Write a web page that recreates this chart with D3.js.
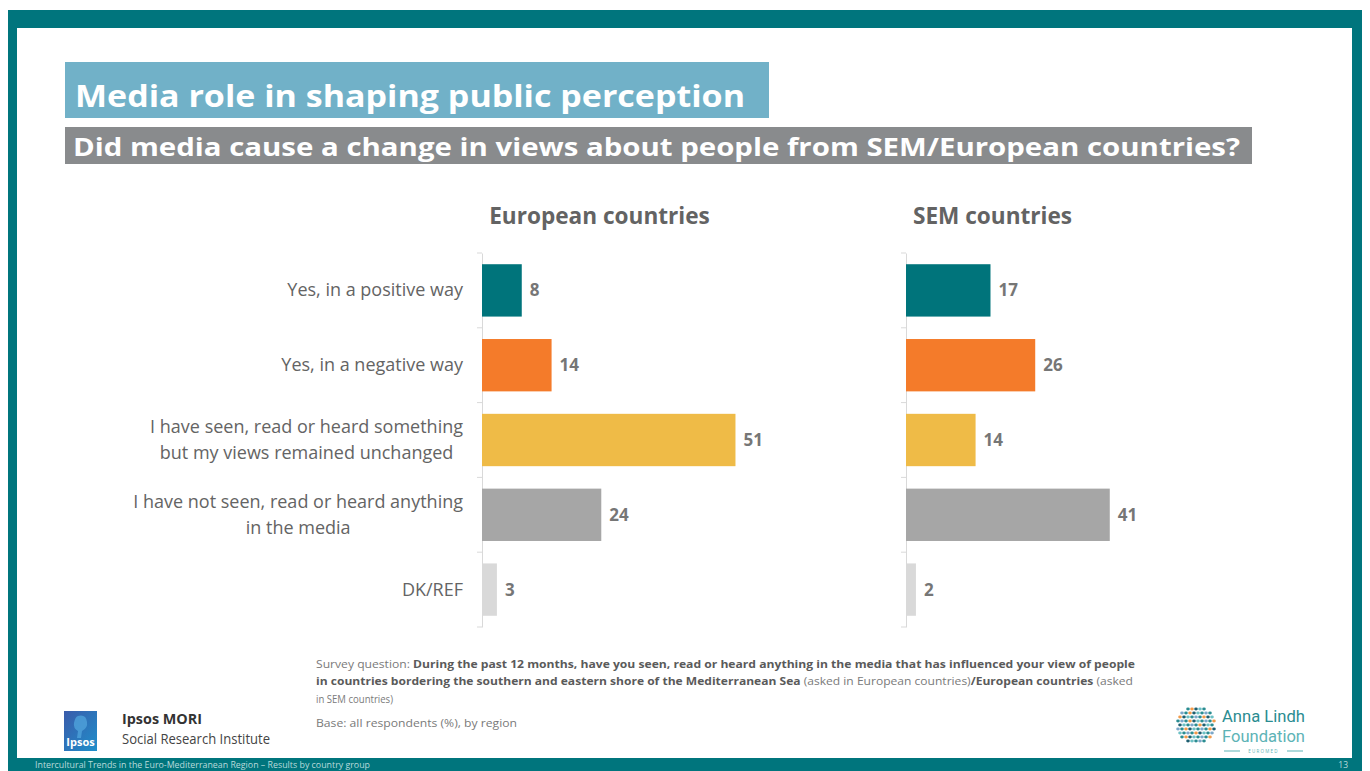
<!DOCTYPE html>
<html>
<head>
<meta charset="utf-8">
<script src="https://cdn.jsdelivr.net/npm/d3@7"></script>
<style>
  html, body { margin: 0; padding: 0; background: #ffffff; }
  svg { display: block; }
</style>
</head>
<body>
<svg id="chart" width="1370" height="771"></svg>
<script>
// Response options (line breaks mark how the labels wrap)
const categories = [
  "Yes, in a positive way",
  "Yes, in a negative way",
  "I have seen, read or heard something\nbut my views remained unchanged",
  "I have not seen, read or heard anything\nin the media",
  "DK/REF"
];
// Share of respondents (%) by region
const europeanValues = [8, 14, 51, 24, 3];
const semValues = [17, 26, 14, 41, 2];
const panelTitles = ["European countries", "SEM countries"];
const barColors = ["#00747B", "#F47B2A", "#EFBB47", "#A6A6A6", "#D9D9D9"];

const svg = d3.select("#chart");
const FONT = "'Open Sans', 'Noto Sans', sans-serif";

// Slide frame
svg.append("rect").attr("x", 8).attr("y", 10).attr("width", 1354).attr("height", 761).attr("fill", "#00757D");
svg.append("rect").attr("x", 17).attr("y", 28).attr("width", 1335).attr("height", 730).attr("fill", "#ffffff");

// Title bars
svg.append("rect").attr("x", 65).attr("y", 62).attr("width", 704).attr("height", 56).attr("fill", "#71B1C8");
svg.append("text").attr("x", 75).attr("y", 107)
  .attr("font-family", FONT).attr("font-weight", 700).attr("font-size", 31)
  .attr("fill", "#ffffff").attr("textLength", 670).attr("lengthAdjust", "spacingAndGlyphs")
  .text("Media role in shaping public perception");

svg.append("rect").attr("x", 65).attr("y", 127).attr("width", 1187).attr("height", 37).attr("fill", "#898B8D");
svg.append("text").attr("x", 73).attr("y", 156)
  .attr("font-family", FONT).attr("font-weight", 700).attr("font-size", 25)
  .attr("fill", "#ffffff").attr("textLength", 1167).attr("lengthAdjust", "spacingAndGlyphs")
  .text("Did media cause a change in views about people from SEM/European countries?");

// Shared scales
const y = d3.scaleBand().domain(categories).range([253, 627]).paddingInner(0.3).paddingOuter(0.15);
const x = d3.scaleLinear().domain([0, 100]).range([0, 497]);

const panels = [
  { title: panelTitles[0], values: europeanValues, x0: 482, titleX: 599.5 },
  { title: panelTitles[1], values: semValues, x0: 906, titleX: 992.5 }
];

panels.forEach(p => {
  const g = svg.append("g").attr("transform", `translate(${p.x0},0)`);

  g.append("text").attr("x", p.titleX - p.x0).attr("y", 224)
    .attr("text-anchor", "middle")
    .attr("font-family", FONT).attr("font-weight", 700).attr("font-size", 22.6)
    .attr("fill", "#636363").text(p.title);

  // Category axis: domain line plus ticks on band boundaries
  const axis = g.append("g").call(d3.axisLeft(y).tickSize(0).tickSizeOuter(0).tickFormat(""));
  axis.select(".domain").attr("stroke", "#D9D9D9").attr("stroke-width", 1);
  const bounds = d3.range(categories.length + 1).map(i => y.range()[0] + i * y.step());
  g.selectAll("line.sep").data(bounds).join("line").attr("class", "sep")
    .attr("x1", -5).attr("x2", 0).attr("y1", d => d).attr("y2", d => d)
    .attr("stroke", "#D9D9D9").attr("stroke-width", 1);

  const rows = categories.map((c, i) => ({ c, v: p.values[i], color: barColors[i] }));

  g.selectAll("rect.bar").data(rows).join("rect").attr("class", "bar")
    .attr("x", x(0)).attr("y", d => y(d.c))
    .attr("width", d => x(d.v)).attr("height", y.bandwidth())
    .attr("fill", d => d.color);

  g.selectAll("text.val").data(rows).join("text").attr("class", "val")
    .attr("x", d => x(d.v) + 8).attr("y", d => y(d.c) + y.bandwidth() / 2 + 6)
    .attr("font-family", FONT).attr("font-weight", 700).attr("font-size", 17)
    .attr("fill", "#767676").text(d => d.v);
});

// Category labels, right-aligned block with centred lines
const labelRight = 463;
const labels = svg.append("g");
categories.forEach(c => {
  const lines = c.split("\n");
  const cy = y(c) + y.bandwidth() / 2;
  const t = labels.append("text")
    .attr("font-family", FONT).attr("font-size", 18).attr("fill", "#646464");
  const spans = lines.map((ln, i) => t.append("tspan")
    .attr("y", cy + 6 + (i - (lines.length - 1) / 2) * 26).text(ln));
  const widths = spans.map(s => s.node().getComputedTextLength());
  const maxW = d3.max(widths);
  spans.forEach(s => s.attr("x", labelRight - maxW / 2).attr("text-anchor", "middle"));
});

// Survey note
const note = svg.append("g").attr("font-family", FONT).attr("font-size", 11);
function noteLine(yPos, parts, width) {
  const t = note.append("text").attr("x", 316).attr("y", yPos);
  parts.forEach(([txt, bold]) => t.append("tspan")
    .attr("font-weight", bold ? 700 : 400)
    .attr("fill", bold ? "#5A5A5A" : "#7A7A7A").text(txt));
  if (width) t.attr("textLength", width).attr("lengthAdjust", "spacingAndGlyphs");
}
noteLine(668, [["Survey question: ", false], ["During the past 12 months, have you seen, read or heard anything in the media that has influenced your view of people", true]], 819);
noteLine(685, [["in countries bordering the southern and eastern shore of the Mediterranean Sea", true], [" (asked in European countries)", false], ["/European countries", true], [" (asked", false]], 817);
noteLine(703, [["in SEM countries)", false]], 77);
noteLine(727, [["Base: all respondents (%), by region", false]], 201);

// Ipsos MORI mark
const grad = svg.append("defs").append("linearGradient").attr("id", "ipsosGrad")
  .attr("x1", 0).attr("y1", 0).attr("x2", 1).attr("y2", 1);
grad.append("stop").attr("offset", 0).attr("stop-color", "#3A5BAA");
grad.append("stop").attr("offset", 1).attr("stop-color", "#1F8FCB");
svg.append("rect").attr("x", 64).attr("y", 711).attr("width", 33).attr("height", 40).attr("fill", "url(#ipsosGrad)");
svg.append("path").attr("d", "M78,716 q8,-2 9,6 q1,6 -5,9 l-1,7 l-4,0 l1,-7 q-5,-3 -4,-8 q1,-6 4,-7 z")
  .attr("fill", "#4FA3DB").attr("opacity", 0.8);
svg.append("text").attr("x", 80.5).attr("y", 746).attr("text-anchor", "middle")
  .attr("font-family", FONT).attr("font-weight", 700).attr("font-size", 11).attr("fill", "#ffffff").text("Ipsos");
svg.append("text").attr("x", 122).attr("y", 724)
  .attr("font-family", FONT).attr("font-weight", 700).attr("font-size", 14).attr("fill", "#333333")
  .attr("textLength", 80).attr("lengthAdjust", "spacingAndGlyphs").text("Ipsos MORI");
svg.append("text").attr("x", 122).attr("y", 744)
  .attr("font-family", FONT).attr("font-size", 14).attr("fill", "#444444")
  .attr("textLength", 148).attr("lengthAdjust", "spacingAndGlyphs").text("Social Research Institute");

// Anna Lindh Foundation mark: disc of small dots
const dotColors = ["#2A8C91", "#F29A4A", "#1E5E70", "#6CC0C4", "#2A8C91", "#7BA7C9"];
const dots = [];
let k = 0;
for (let r = -4; r <= 4; r++) {
  for (let c = -5; c <= 5; c++) {
    const dx = c * 4 + (r % 2 ? 2 : 0), dy = r * 4;
    if (dx * dx + dy * dy <= 19 * 19) dots.push({ dx, dy, color: dotColors[(k++ * 7) % dotColors.length] });
  }
}
svg.append("g").attr("transform", "translate(1196,725)")
  .selectAll("ellipse").data(dots).join("ellipse")
  .attr("cx", d => d.dx).attr("cy", d => d.dy).attr("rx", 1.8).attr("ry", 1.4)
  .attr("fill", d => d.color);
svg.append("text").attr("x", 1222).attr("y", 722)
  .attr("font-family", "Roboto, sans-serif").attr("font-size", 17).attr("fill", "#2A8C91")
  .attr("textLength", 83).attr("lengthAdjust", "spacingAndGlyphs").text("Anna Lindh");
svg.append("text").attr("x", 1222).attr("y", 742)
  .attr("font-family", "Roboto, sans-serif").attr("font-size", 17).attr("fill", "#5DB3B6")
  .attr("textLength", 83).attr("lengthAdjust", "spacingAndGlyphs").text("Foundation");
svg.append("line").attr("x1", 1224).attr("x2", 1240).attr("y1", 751).attr("y2", 751).attr("stroke", "#5DB3B6");
svg.append("line").attr("x1", 1287).attr("x2", 1303).attr("y1", 751).attr("y2", 751).attr("stroke", "#5DB3B6");
svg.append("text").attr("x", 1263.5).attr("y", 753).attr("text-anchor", "middle")
  .attr("font-family", FONT).attr("font-size", 4.5).attr("letter-spacing", 1.2).attr("fill", "#5DB3B6").text("EUROMED");

// Footer strip
svg.append("text").attr("x", 35).attr("y", 768)
  .attr("font-family", FONT).attr("font-size", 8.5).attr("fill", "#B9DADB")
  .attr("textLength", 335).attr("lengthAdjust", "spacingAndGlyphs")
  .text("Intercultural Trends in the Euro-Mediterranean Region –  Results by country group");
svg.append("text").attr("x", 1348).attr("y", 768).attr("text-anchor", "end")
  .attr("font-family", FONT).attr("font-size", 8.5).attr("fill", "#B9DADB").text("13");
</script>
</body>
</html>
